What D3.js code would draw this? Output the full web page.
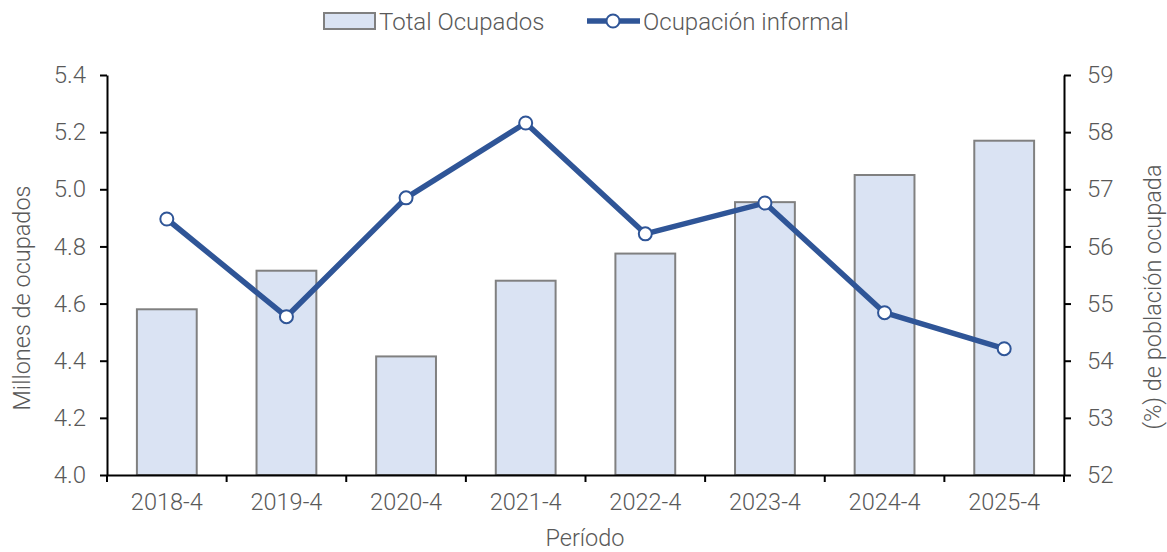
<!DOCTYPE html>
<html>
<head>
<meta charset="utf-8">
<script src="https://cdn.jsdelivr.net/npm/d3@7"></script>
<style>
  body { margin: 0; background: #fff; }
  svg text { font-family: Roboto, "Open Sans", sans-serif; font-weight: 300; fill: #595959; }
</style>
</head>
<body>
<div id="chart"></div>
<script>
// data
var periods = ["2018-4", "2019-4", "2020-4", "2021-4", "2022-4", "2023-4", "2024-4", "2025-4"];
var ocupados = [4.58, 4.715, 4.415, 4.68, 4.775, 4.955, 5.05, 5.17];
var informal = [56.48, 54.77, 56.85, 58.16, 56.22, 56.76, 54.84, 54.21];
var leftTicks = [4.0, 4.2, 4.4, 4.6, 4.8, 5.0, 5.2, 5.4];
var rightTicks = [52, 53, 54, 55, 56, 57, 58, 59];

var width = 1167, height = 552;
var mLeft = 107, mRight = 1064, mTop = 75, mBottom = 475;
var blue = "#2F5597";

var svg = d3.select("#chart").append("svg")
    .attr("width", width)
    .attr("height", height);

var x = d3.scaleBand().domain(periods).range([mLeft, mRight]).paddingInner(0.5).paddingOuter(0.25);
var yL = d3.scaleLinear().domain([4.0, 5.4]).range([mBottom, mTop]);
var yR = d3.scaleLinear().domain([52, 59]).range([mBottom, mTop]);

// bars
svg.append("g").selectAll("rect")
    .data(periods)
    .enter()
    .append("rect")
    .attr("x", function(d){ return x(d); })
    .attr("y", function(d, i){ return yL(ocupados[i]); })
    .attr("width", x.bandwidth())
    .attr("height", function(d, i){ return mBottom - yL(ocupados[i]); })
    .style("fill", "#DAE3F3")
    .style("stroke", "#808080")
    .style("stroke-width", 2);

// axes
var xAxisScale = d3.scaleBand().domain(periods).range([mLeft, mRight]);
var xAxis = svg.append("g")
    .attr("transform", "translate(0," + mBottom + ")")
    .call(d3.axisBottom(xAxisScale).tickSize(0).tickPadding(18));
xAxis.select(".domain").attr("stroke", "#000").attr("stroke-width", 2);
xAxis.selectAll("text").style("font-size", "23.5px");
// ticks on band boundaries
xAxis.selectAll(".bnd")
    .data(periods.concat(["end"]))
    .enter()
    .append("line")
    .attr("x1", function(d, i){ return mLeft + i * xAxisScale.step(); })
    .attr("x2", function(d, i){ return mLeft + i * xAxisScale.step(); })
    .attr("y1", 0).attr("y2", 7)
    .attr("stroke", "#000").attr("stroke-width", 2);

var yAxisL = svg.append("g")
    .attr("transform", "translate(" + mLeft + ",0)")
    .call(d3.axisLeft(yL).tickValues(leftTicks).tickFormat(d3.format(".1f")).tickSize(7).tickPadding(14).tickSizeOuter(0));
yAxisL.select(".domain").attr("stroke", "#000").attr("stroke-width", 2);
yAxisL.selectAll("line").attr("stroke", "#000").attr("stroke-width", 2);
yAxisL.selectAll("text").style("font-size", "24px");

var yAxisR = svg.append("g")
    .attr("transform", "translate(" + mRight + ",0)")
    .call(d3.axisRight(yR).tickValues(rightTicks).tickFormat(d3.format("d")).tickSize(7).tickPadding(16).tickSizeOuter(0));
yAxisR.select(".domain").attr("stroke", "#000").attr("stroke-width", 2);
yAxisR.selectAll("line").attr("stroke", "#000").attr("stroke-width", 2);
yAxisR.selectAll("text").style("font-size", "24px");

// line
var cx = function(d, i){ return xAxisScale(periods[i]) + xAxisScale.bandwidth() / 2; };
var line = d3.line()
    .x(cx)
    .y(function(d){ return yR(d); });

svg.append("path")
    .datum(informal)
    .attr("d", line)
    .attr("fill", "none")
    .attr("stroke", blue)
    .attr("stroke-width", 5.5)
    .attr("stroke-linejoin", "round");

svg.append("g").selectAll("circle")
    .data(informal)
    .enter()
    .append("circle")
    .attr("cx", cx)
    .attr("cy", function(d){ return yR(d); })
    .attr("r", 6.5)
    .attr("fill", "#fff")
    .attr("stroke", blue)
    .attr("stroke-width", 2);

// axis titles
svg.append("text")
    .attr("transform", "translate(30,298) rotate(-90)")
    .attr("text-anchor", "middle")
    .style("font-size", "23.5px")
    .text("Millones de ocupados");

svg.append("text")
    .attr("transform", "translate(1161,297) rotate(-90)")
    .attr("text-anchor", "middle")
    .style("font-size", "23.5px")
    .text("(%) de población ocupada");

svg.append("text")
    .attr("x", 585)
    .attr("y", 546)
    .attr("text-anchor", "middle")
    .style("font-size", "23.5px")
    .text("Período");

// legend
var lg = svg.append("g");
lg.append("rect")
    .attr("x", 324).attr("y", 13).attr("width", 51).attr("height", 16)
    .style("fill", "#DAE3F3").style("stroke", "#808080").style("stroke-width", 2);
lg.append("text")
    .attr("x", 379).attr("y", 30)
    .style("font-size", "24px")
    .text("Total Ocupados");
lg.append("line")
    .attr("x1", 587).attr("x2", 640).attr("y1", 21).attr("y2", 21)
    .attr("stroke", blue).attr("stroke-width", 5.5);
lg.append("circle")
    .attr("cx", 613).attr("cy", 21).attr("r", 6.5)
    .attr("fill", "#fff").attr("stroke", blue).attr("stroke-width", 2);
lg.append("text")
    .attr("x", 643).attr("y", 30)
    .style("font-size", "24px")
    .text("Ocupación informal");
</script>
</body>
</html>
